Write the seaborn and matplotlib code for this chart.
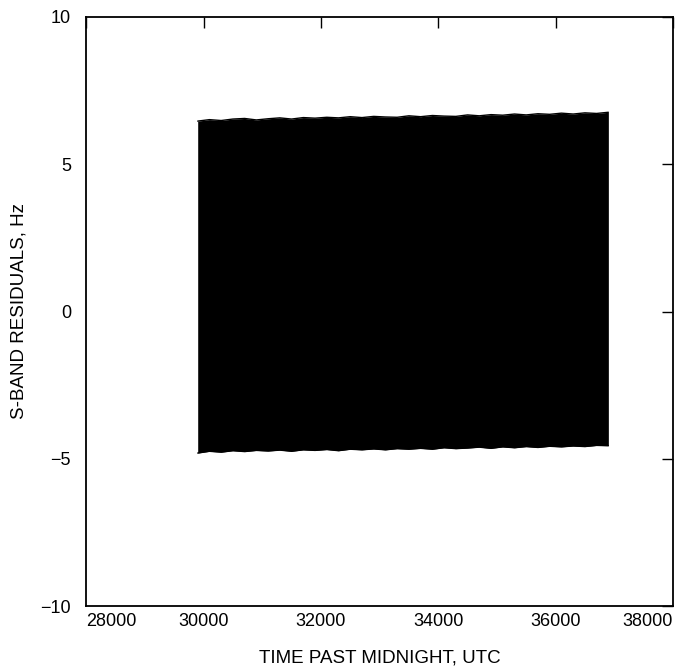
import matplotlib
matplotlib.use('Agg')
import matplotlib.pyplot as plt
import seaborn as sns
import pandas as pd

# Envelope of the (very dense) residual signal
time = [29900, 30100, 30300, 30500, 30700, 30900, 31100, 31300, 31500, 31700,
        31900, 32100, 32300, 32500, 32700, 32900, 33100, 33300, 33500, 33700,
        33900, 34100, 34300, 34500, 34700, 34900, 35100, 35300, 35500, 35700,
        35900, 36100, 36300, 36500, 36700, 36900]
upper = [6.46, 6.51, 6.48, 6.53, 6.55, 6.50, 6.54, 6.57, 6.53, 6.58,
         6.56, 6.59, 6.57, 6.61, 6.58, 6.62, 6.60, 6.59, 6.64, 6.61,
         6.65, 6.63, 6.62, 6.67, 6.64, 6.68, 6.66, 6.70, 6.67, 6.71,
         6.69, 6.73, 6.70, 6.74, 6.72, 6.76]
lower = [-4.80, -4.74, -4.77, -4.72, -4.75, -4.71, -4.73, -4.70, -4.74, -4.69,
         -4.71, -4.68, -4.72, -4.67, -4.69, -4.66, -4.69, -4.65, -4.67, -4.64,
         -4.67, -4.62, -4.65, -4.63, -4.60, -4.64, -4.59, -4.62, -4.58, -4.61,
         -4.57, -4.59, -4.56, -4.58, -4.54, -4.55]

x_ticks = [28000, 30000, 32000, 34000, 36000, 38000]
y_ticks = [-10, -5, 0, 5, 10]

sns.set_theme(style='white')
plt.rcParams['font.family'] = ['Liberation Sans', 'DejaVu Sans']

fig = plt.figure(figsize=(6.79, 6.70), dpi=100)
ax = fig.add_axes([0.127, 0.095, 0.864, 0.88])

df = pd.DataFrame({'time': time, 'upper': upper, 'lower': lower})
ax.fill_between(df['time'], df['lower'], df['upper'], color='black', lw=0)
sns.lineplot(data=df, x='time', y='upper', color='black', lw=1.0, ax=ax)
sns.lineplot(data=df, x='time', y='lower', color='black', lw=1.0, ax=ax)

ax.set_xlim(28000, 38000)
ax.set_ylim(-10, 10)
ax.set_xticks(x_ticks)
ax.set_yticks(y_ticks)
ax.set_xticklabels([str(t) for t in x_ticks])
ax.set_yticklabels([f'{t:d}'.replace('-', '\u2212') for t in y_ticks])
labs = ax.get_xticklabels()
labs[0].set_ha('left')
labs[-1].set_ha('right')

ax.tick_params(axis='both', direction='in', top=True, right=True, length=8,
               width=1, color='black', labelsize=13, labelcolor='black')
ax.tick_params(axis='y', pad=11)
ax.tick_params(axis='x', pad=5)
for s in ax.spines.values():
    s.set_color('black')
    s.set_linewidth(1.3)

ax.set_xlabel('TIME PAST MIDNIGHT, UTC', fontsize=13.5, color='black', labelpad=14)
ax.set_ylabel('S-BAND RESIDUALS, Hz', fontsize=13.5, color='black', labelpad=9)

fig.savefig('out.png', dpi=100)
